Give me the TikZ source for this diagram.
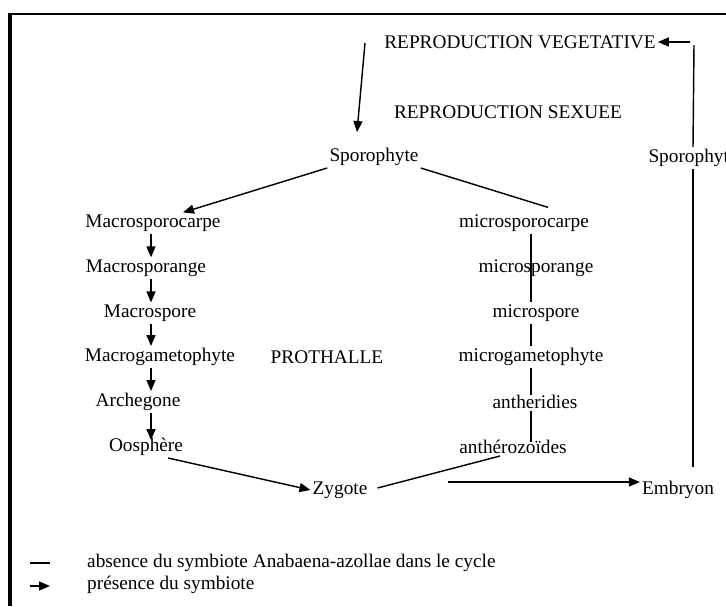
\documentclass[tikz,border=0pt]{standalone}
\usepackage{fontspec}
\setmainfont{Liberation Serif}
\usetikzlibrary{arrows.meta}
\tikzset{
	txt/.style={inner sep=2pt, font=\fontsize{19.3}{22}\selectfont},
	ln/.style={line width=0.5mm},
	arr/.style={line width=0.5mm, -{Triangle[length=11pt, width=9pt]}}
}

\begin{document}
\begin{tikzpicture}[x=1pt, y=-1pt]
		%%%%% START %%%%%
		\useasboundingbox (0, 0) rectangle (726, 606);
		\fill[white] (0, 0) rectangle (726, 606);
		
		\draw[ln] (726, 14) -- (9, 14);
		\draw[line width=1.1mm] (10, 13) -- (10, 606);
		
		\node[txt] (veg) at (520, 42) {REPRODUCTION VEGETATIVE};
		\node[txt] (sex) at (508, 112) {REPRODUCTION SEXUEE};
		\node[txt] (sporL) at (374, 157) {Sporophyte};
		\node[txt] (sporR) at (693, 158) {Sporophyte};
		
		\node[txt] (macrocarpe) at (153, 223) {Macrosporocarpe};
		\node[txt] (macrange) at (146, 268) {Macrosporange};
		\node[txt] (macrospore) at (150, 313) {Macrospore};
		\node[txt] (macrogam) at (160, 357) {Macrogametophyte};
		\node[txt] (archegone) at (138, 402) {Archegone};
		\node[txt] (oosphere) at (146, 447) {Oosphère};
		
		\node[txt] (prothalle) at (327, 357) {PROTHALLE};
		
		\node[txt] (microcarpe) at (524, 223) {microsporocarpe};
		\node[txt] (micrange) at (536, 268) {microsporange};
		\node[txt] (microspore) at (536, 313) {microspore};
		\node[txt] (microgam) at (531, 357) {microgametophyte};
		\node[txt] (antheridies) at (535, 402) {antheridies};
		\node[txt] (anthero) at (513, 447) {anthérozoïdes};
		
		\node[txt] (zygote) at (340, 490) {Zygote};
		\node[txt] (embryon) at (678, 490) {Embryon};
		
		\coordinate (macx) at (151, 0);
		\coordinate (micx) at (531, 0);
		\coordinate (vegtop) at (365, 43);
		\coordinate (rtop) at (694, 45);
		\coordinate (rveg) at (690, 42);
		
		% vegetative loop
		\draw[arr] (vegtop) -- ([xshift=-17pt, yshift=14pt]sporL.north);
		\draw[ln] (sporR.north) -- (rtop);
		\draw[arr] (rveg) -- (veg.east);
		\draw[ln, shorten >=12pt] (sporR.south) -- (sporR.south |- embryon.north);
		
		% sporophyte
		\draw[arr] (sporL.south west) -- ([xshift=30pt]macrocarpe.north);
		\draw[ln] (sporL.south east) -- ([xshift=24pt, yshift=5pt]microcarpe.north);
		
		% macro side
		\draw[arr] (macrocarpe.south -| macx) -- (macrange.north -| macx);
		\draw[arr] (macrange.south -| macx) -- (macrospore.north -| macx);
		\draw[arr] (macrospore.south -| macx) -- (macrogam.north -| macx);
		\draw[arr] (macrogam.south -| macx) -- (archegone.north -| macx);
		\draw[arr] (archegone.south -| macx) -- ([yshift=-4pt]oosphere.north -| macx);
		
		% micro side
		\draw[ln] (microcarpe.south -| micx) -- (microspore.north -| micx);
		\draw[ln] (microspore.south -| micx) -- (microgam.north -| micx);
		\draw[ln] (microgam.south -| micx) -- ([yshift=-2pt]antheridies.north -| micx);
		\draw[ln] (antheridies.south -| micx) -- ([yshift=-4pt]anthero.north -| micx);
		
		% fecondation
		\draw[arr] ([xshift=22pt]oosphere.south) -- (zygote.west);
		\draw[ln] ([xshift=-13pt]anthero.south) -- ([xshift=8pt, yshift=2pt]zygote.east);
		\draw[arr] ([xshift=78pt, yshift=8pt]zygote.east) -- ([yshift=8pt]embryon.west);
		
		% legende
		\node[txt, anchor=west] (absence) at (85, 563) {absence du symbiote Anabaena-azollae dans le cycle};
		\node[txt, anchor=west] (presence) at (85, 585) {présence du symbiote};
		\draw[ln] ([xshift=-55pt]absence.west) -- ([xshift=-35pt]absence.west);
		\draw[arr] ([xshift=-55pt, yshift=-1pt]presence.west) -- ([xshift=-35pt, yshift=-1pt]presence.west);
		
		%%%%% END %%%%%
	\end{tikzpicture}
\end{document}
